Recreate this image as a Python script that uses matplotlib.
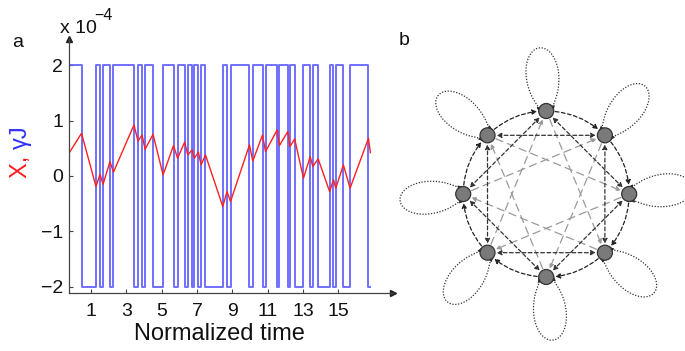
import matplotlib
matplotlib.use('Agg')
import matplotlib.pyplot as plt
import numpy as np
from matplotlib.patches import FancyArrowPatch, Circle

plt.rcParams['font.family'] = ['Liberation Sans', 'DejaVu Sans']

# ---------------- data (panel a) ----------------
blue_t = [-0.23, 0.46, 1.28, 1.51, 1.68, 2.07, 2.27, 3.43, 3.66, 3.89, 4.06, 4.51,
          5.08, 5.67, 5.90, 6.30, 6.48, 6.72, 6.85, 7.08, 7.23, 7.48, 8.46, 8.70,
          8.90, 9.97, 10.16, 10.71, 10.88, 11.54, 11.67, 12.14, 12.27, 12.53, 13.03,
          13.41, 13.56, 13.86, 14.51, 14.73, 14.86, 15.29, 15.67, 16.71, 16.77]
blue_level = [2, -2, 2, -2, 2, -2, 2, -2, 2, -2, 2, -2,
              2, -2, 2, -2, 2, -2, 2, -2, 2, -2, 2, -2,
              2, -2, 2, -2, 2, -2, 2, -2, 2, -2, 2,
              -2, 2, -2, 2, -2, 2, -2, 2, -2, -2]
red_t = [-0.25, 0.46, 1.28, 1.51, 1.68, 2.07, 2.27, 3.43, 3.66, 3.89, 4.06, 4.51,
         5.08, 5.67, 5.90, 6.30, 6.48, 6.72, 6.85, 7.08, 7.23, 7.48, 8.46, 8.70,
         8.90, 9.97, 10.16, 10.71, 10.88, 11.54, 11.67, 12.14, 12.27, 12.53, 13.03,
         13.41, 13.56, 13.86, 14.51, 14.73, 14.86, 15.29, 15.67, 16.71, 16.82]
red_v = [0.41, 0.77, -0.19, 0.03, -0.15, 0.26, 0.07, 0.92, 0.63, 0.74, 0.48, 0.75,
         0.02, 0.55, 0.32, 0.61, 0.38, 0.47, 0.32, 0.43, 0.20, 0.38, -0.55, -0.28,
         -0.46, 0.56, 0.27, 0.74, 0.44, 0.83, 0.55, 0.80, 0.53, 0.67, -0.04,
         0.35, 0.17, 0.31, -0.28, -0.07, -0.22, 0.20, -0.22, 0.68, 0.42]
xticks = [1, 3, 5, 7, 9, 11, 13, 15]
yticks = [-2, -1, 0, 1, 2]

# ---------------- data (panel b) ----------------
n_nodes = 8

W, H = 685, 351
fig = plt.figure(figsize=(W / 100, H / 100), dpi=100)

# ---------------- panel a ----------------
L, R, B, T = 68.7, 393, 293, 39
ax = fig.add_axes([L / W, 1 - B / H, (R - L) / W, (B - T) / H])
ax.step(blue_t, blue_level, where='post', color='#6060ff', lw=1.4, alpha=0.9)
ax.plot(red_t, red_v, color='#ff2020', lw=1.0)
ax.set_xlim(-0.266, 18.1)
ax.set_ylim(-2.11, 2.47)
ax.set_xticks(xticks)
ax.set_yticks(yticks)
ax.set_yticklabels(['\u22122', '\u22121', '0', '1', '2'])
for s in ['top', 'right']:
    ax.spines[s].set_visible(False)
for s in ['left', 'bottom']:
    ax.spines[s].set_color('#444444')
    ax.spines[s].set_linewidth(0.9)
ax.tick_params(direction='in', length=3, width=0.8, colors='#444444',
               labelsize=14, labelcolor='#111111')
ax.tick_params(axis='x', pad=7)
ax.tick_params(axis='y', pad=4)
ax.patch.set_visible(False)
ax.plot(0, 1, marker='^', color='#222222', ms=4.5, transform=ax.transAxes, clip_on=False)
ax.plot(1, 0, marker='>', color='#222222', ms=4.5, transform=ax.transAxes, clip_on=False)

fig.text(219 / W, 1 - 340 / H, 'Normalized time', fontsize=17, ha='center',
         va='baseline', color='#111111')
fig.text(60 / W, 1 - 33 / H, 'x 10', fontsize=14, ha='left', va='baseline', color='#111111')
fig.text(94 / W, 1 - 20 / H, '\u22124', fontsize=11.5, ha='left', va='baseline', color='#111111')
fig.text(12 / W, 1 - 47 / H, 'a', fontsize=14, ha='left', va='baseline', color='#111111')
fig.text(399 / W, 1 - 45 / H, 'b', fontsize=14, ha='left', va='baseline', color='#111111')

t1 = fig.text(32 / W, 1 - 178 / H, 'X, ', fontsize=17, rotation=90, ha='right',
              va='bottom', color='#ff1a1a')
fig.canvas.draw()
bb = t1.get_window_extent()
fig.text(32 / W, bb.y1 / fig.bbox.height, '\u03b3J', fontsize=17, rotation=90,
         ha='right', va='bottom', color='#3030ff')

# ---------------- panel b ----------------
axb = fig.add_axes([390 / W, 0, (W - 390) / W, 1])
axb.set_xlim(390, W)
axb.set_ylim(H, 0)
axb.axis('off')

cx, cy, rad = 546.2, 194.0, 83.0
node_r = 7.5
ang = np.deg2rad(90 - 360.0 / n_nodes * np.arange(n_nodes))  # clockwise from top
px = cx + rad * np.cos(ang)
py = cy - rad * np.sin(ang)


def arrow(i, j, style, color, ls, lw, rad_c=0.0, ms=7):
    a = FancyArrowPatch((px[i], py[i]), (px[j], py[j]), arrowstyle=style,
                        mutation_scale=ms, color=color, lw=lw, linestyle=ls,
                        shrinkA=6.5, shrinkB=6.5,
                        connectionstyle='arc3,rad=%g' % rad_c, zorder=2)
    axb.add_patch(a)


# gray skip-3 chords
for i in range(n_nodes):
    j = (i + 3) % n_nodes
    arrow(i, j, '-|>', '#9a9a9a', (0, (6, 4)), 0.9)
# black skip-2 chords
for i in range(n_nodes):
    j = (i + 2) % n_nodes
    arrow(i, j, '<|-|>', '#333333', (0, (3, 2)), 0.9)
# ring arcs (clockwise)
for i in range(n_nodes):
    j = (i + 1) % n_nodes
    arrow(i, j, '-|>', '#222222', (0, (3, 2)), 0.9, rad_c=-0.2)

# self loops (teardrops, tilted slightly counter-clockwise)
phi = np.linspace(-np.pi / 2, np.pi / 2, 200)
Lp = 56.0
tilt = np.deg2rad(6)
for i in range(n_nodes):
    a0 = ang[i] + tilt
    u = np.array([np.cos(a0), -np.sin(a0)])
    v = np.array([np.sin(a0), np.cos(a0)])
    r = Lp * np.cos(phi) ** 6 + node_r
    lx = px[i] + r * (np.cos(phi) * u[0] + np.sin(phi) * v[0])
    ly = py[i] + r * (np.cos(phi) * u[1] + np.sin(phi) * v[1])
    axb.plot(lx, ly, color='#333333', lw=0.9, ls=(0, (1, 1.3)), zorder=1)
    for end in (0, -1):
        k = 25 if end == 0 else -26
        a = FancyArrowPatch((lx[k], ly[k]), (lx[end], ly[end]),
                            arrowstyle='-|>', mutation_scale=6, color='#222222', lw=0.6,
                            shrinkA=0, shrinkB=0, zorder=3)
        axb.add_patch(a)

for i in range(n_nodes):
    axb.add_patch(Circle((px[i], py[i]), node_r, facecolor='#7a7a7a',
                         edgecolor='#333333', lw=0.9, zorder=5))

fig.savefig('out.png', dpi=100)
